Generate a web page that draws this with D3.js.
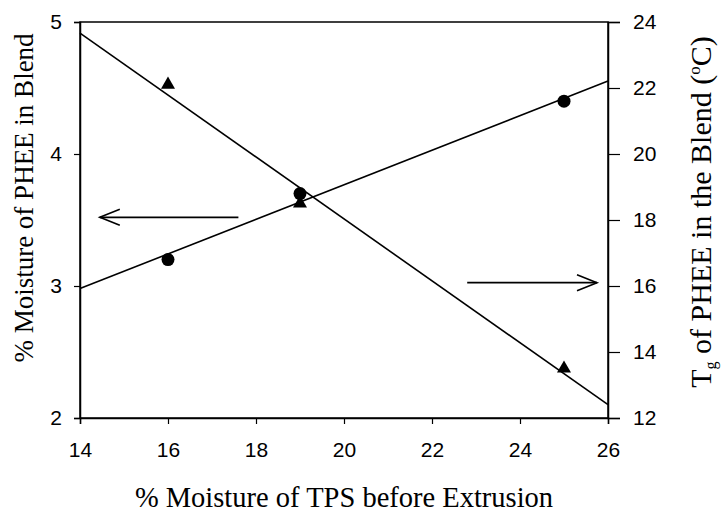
<!DOCTYPE html>
<html>
<head>
<script src="https://cdnjs.cloudflare.com/ajax/libs/d3/7.8.5/d3.min.js"></script>
<style>
  body { margin: 0; background: #fff; }
</style>
</head>
<body>
<script>
// data
let tpsMoisture = [16, 19, 25];
let pheeMoisture = [3.2, 3.7, 4.4];   // circles, left axis
let pheeTg = [22.1, 18.5, 13.5];      // triangles, right axis
let xTicks = [14, 16, 18, 20, 22, 24, 26];
let yLeftTicks = [2, 3, 4, 5];
let yRightTicks = [12, 14, 16, 18, 20, 22, 24];

let width = 722, height = 514;
let margin = {top: 22, right: 114, bottom: 96, left: 80};

let svg = d3.select("body").append("svg")
    .attr("width", width)
    .attr("height", height);

let x = d3.scaleLinear().domain([14, 26]).range([margin.left, width - margin.right]);
let yL = d3.scaleLinear().domain([2, 5]).range([height - margin.bottom, margin.top]);
let yR = d3.scaleLinear().domain([12, 24]).range([height - margin.bottom, margin.top]);

// least squares trend line
function fit(xs, ys) {
    let mx = d3.mean(xs), my = d3.mean(ys);
    let sxy = d3.sum(xs, (d, i) => (d - mx) * (ys[i] - my));
    let sxx = d3.sum(xs, d => (d - mx) * (d - mx));
    let b = sxy / sxx;
    return v => my + b * (v - mx);
}

let tickFont = "Liberation Sans";
let titleFont = "Liberation Serif";

// frame
svg.append("rect")
    .attr("x", x(14)).attr("y", yL(5))
    .attr("width", x(26) - x(14)).attr("height", yL(2) - yL(5))
    .attr("fill", "none").attr("stroke", "#000").attr("stroke-width", 1.5);

let fmt = d3.format("d");
let xAxis = svg.append("g")
    .attr("transform", "translate(0," + yL(2) + ")")
    .call(d3.axisBottom(x).tickValues(xTicks).tickFormat(fmt).tickSize(6).tickPadding(18));
let leftAxis = svg.append("g")
    .attr("transform", "translate(" + x(14) + ",0)")
    .call(d3.axisLeft(yL).tickValues(yLeftTicks).tickFormat(fmt).tickSize(6).tickPadding(12));
let rightAxis = svg.append("g")
    .attr("transform", "translate(" + x(26) + ",0)")
    .call(d3.axisRight(yR).tickValues(yRightTicks).tickFormat(fmt).tickSize(12).tickPadding(13));

[xAxis, leftAxis, rightAxis].forEach(a => {
    a.attr("font-family", tickFont).attr("font-size", 21);
    a.select(".domain").attr("stroke-width", 1.5);
    a.selectAll(".tick line").attr("stroke-width", 1.2);
    a.selectAll("text").attr("fill", "#000");
});

// trend lines
let fitL = fit(tpsMoisture, pheeMoisture);
let fitR = fit(tpsMoisture, pheeTg);
let line = d3.line();
svg.append("path")
    .attr("d", line([[x(14), yL(fitL(14))], [x(26), yL(fitL(26))]]))
    .attr("stroke", "#000").attr("stroke-width", 1.6).attr("fill", "none");
svg.append("path")
    .attr("d", line([[x(14), yR(fitR(14))], [x(26), yR(fitR(26))]]))
    .attr("stroke", "#000").attr("stroke-width", 1.6).attr("fill", "none");

// markers
svg.selectAll("circle.pt")
    .data(tpsMoisture)
    .enter()
    .append("circle")
        .attr("class", "pt")
        .attr("cx", d => x(d))
        .attr("cy", (d, i) => yL(pheeMoisture[i]))
        .attr("r", 6.5)
        .attr("fill", "#000");
let tri = d3.symbol().type(d3.symbolTriangle).size(85);
svg.selectAll("path.tri")
    .data(tpsMoisture)
    .enter()
    .append("path")
        .attr("class", "tri")
        .attr("d", tri)
        .attr("transform", (d, i) => "translate(" + x(d) + "," + yR(pheeTg[i]) + ")")
        .attr("fill", "#000");

// arrows pointing to the axis each series uses
function arrow(x1, x2, yy) {
    let dir = Math.sign(x2 - x1);
    svg.append("path")
        .attr("d", line([[x1, yy], [x2, yy]]))
        .attr("stroke", "#000").attr("stroke-width", 1.8).attr("fill", "none");
    svg.append("path")
        .attr("d", line([[x2 - dir * 20, yy - 8], [x2, yy], [x2 - dir * 20, yy + 8]]))
        .attr("stroke", "#000").attr("stroke-width", 1.6).attr("fill", "none");
}
arrow(x(17.6), x(14.45), yL(3.52));
arrow(x(22.8), x(25.75), yR(16.1));

// axis titles
svg.append("text")
    .attr("transform", "translate(" + x(20) + ",507)")
    .attr("text-anchor", "middle")
    .attr("font-family", titleFont).attr("font-size", 28.5)
    .text("% Moisture of TPS before Extrusion");
svg.append("text")
    .attr("transform", "translate(33,198) rotate(-90)")
    .attr("text-anchor", "middle")
    .attr("font-family", titleFont).attr("font-size", 27)
    .text("% Moisture of PHEE in Blend");
let rt = svg.append("text")
    .attr("transform", "translate(711,212) rotate(-90)")
    .attr("text-anchor", "middle")
    .attr("font-family", titleFont).attr("font-size", 30);
rt.append("tspan").text("T");
rt.append("tspan").attr("dy", 5).attr("font-size", 16).text("g");
rt.append("tspan").attr("dy", -5).text(" of PHEE in the Blend (");
rt.append("tspan").attr("dy", -11).attr("font-size", 17).text("o");
rt.append("tspan").attr("dy", 11).text("C)");
</script>
</body>
</html>
